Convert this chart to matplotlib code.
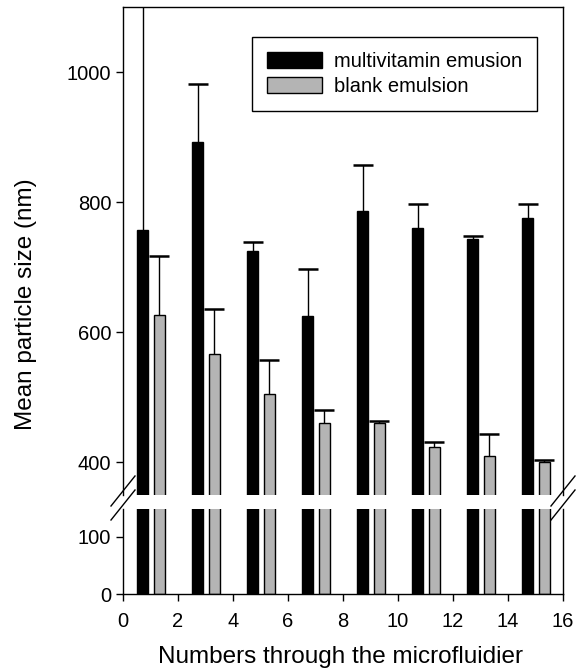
import numpy as np
import matplotlib
matplotlib.use("Agg")
import matplotlib.pyplot as plt

plt.rcParams['font.family'] = ['Liberation Sans', 'DejaVu Sans']

# data
passes = np.arange(1, 17, 2)            # group positions (1,3,...,15)
multi_mean = [758, 892, 725, 625, 787, 761, 744, 776]
multi_err = [600, 89, 14, 72, 70, 36, 4, 21]
blank_mean = [627, 567, 505, 460, 460, 424, 410, 401]
blank_err = [90, 69, 53, 20, 4, 8, 34, 3]
xticks = np.arange(0, 17, 2)

fig = plt.figure(figsize=(5.82, 6.71), dpi=100)
W, H = 582, 671
left, right = 123 / W, 563 / W
ax_hi = fig.add_axes([left, 1 - 495 / H, right - left, (495 - 7) / H])
ax_lo = fig.add_axes([left, 1 - 594 / H, right - left, (594 - 508.5) / H])

bw = 0.4
xb = passes - 0.28
xg = passes + 0.32
for ax in (ax_hi, ax_lo):
    ax.bar(xb, multi_mean, width=bw, color='black', edgecolor='black', linewidth=1)
    ax.bar(xg, blank_mean, width=bw, color='#b4b4b4', edgecolor='black', linewidth=1)
    for xs, m, e in ((xb, multi_mean, multi_err), (xg, blank_mean, blank_err)):
        eb = ax.errorbar(xs, m, yerr=[np.zeros(8), e], fmt='none', ecolor='black',
                         elinewidth=1.0, capsize=7, capthick=1.8)
        eb[1][0].set_visible(False)  # upper cap only
    ax.set_xlim(0, 16)
    ax.tick_params(direction='out', labelsize=14.5, width=1, length=5)
    for s in ax.spines.values():
        s.set_linewidth(1)

ax_hi.set_ylim(350, 1100)
ax_hi.set_yticks([400, 600, 800, 1000])
ax_hi.spines['bottom'].set_visible(False)
ax_hi.tick_params(axis='x', bottom=False, labelbottom=False)

ax_lo.set_ylim(0, 150)
ax_lo.set_yticks([0, 100])
ax_lo.spines['top'].set_visible(False)
ax_lo.set_xticks(xticks)
ax_lo.tick_params(axis='x', pad=8)

# break marks
for x0 in (left, right):
    for dy in (0, 14):
        y1 = 1 - (500 + dy) / H
        y2 = 1 - (482 + dy) / H
        fig.add_artist(plt.Line2D([x0 - 12 / W, x0 + 12 / W], [y1 - 6 / H, y2 + 6 / H],
                                  transform=fig.transFigure, color='black', lw=1))

fig.text(26 / W, 1 - 304 / H, 'Mean particle size (nm)', rotation=90,
         ha='center', va='center', fontsize=17.5)
fig.text(341 / W, 1 - 657 / H, 'Numbers through the microfluidier',
         ha='center', va='center', fontsize=17.5)

leg = ax_hi.legend(['multivitamin emusion', 'blank emulsion'], loc='upper right',
                   bbox_to_anchor=(537 / W, 1 - 37 / H), bbox_transform=fig.transFigure,
                   borderaxespad=0, fontsize=14.5, fancybox=False, edgecolor='black',
                   framealpha=1, handlelength=2.7, handleheight=0.8, borderpad=0.75,
                   labelspacing=0.3, handletextpad=0.6)
leg.get_frame().set_linewidth(1)

fig.savefig('out.png', dpi=100)
